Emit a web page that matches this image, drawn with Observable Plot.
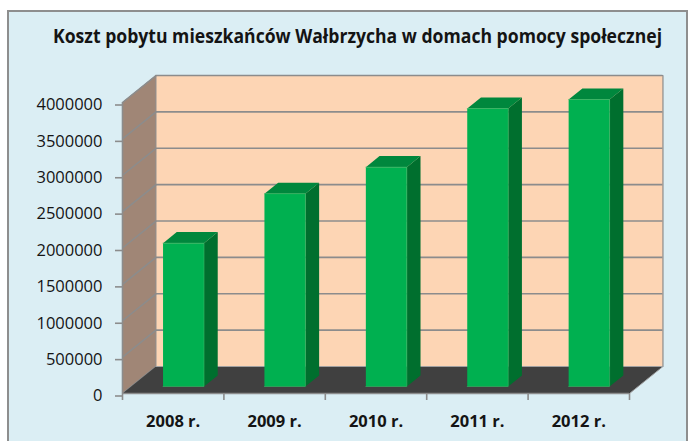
<!DOCTYPE html>
<html><head><meta charset="utf-8">
<script src="https://cdn.jsdelivr.net/npm/d3@7"></script>
<script src="https://cdn.jsdelivr.net/npm/@observablehq/plot@0.6"></script>
<style>
html,body{margin:0;padding:0;background:#fff;width:689px;height:441px;overflow:hidden;}
#frame{position:absolute;left:7px;top:10px;width:681px;height:440px;background:#DBEEF4;border:2px solid #8E8E8E;box-sizing:border-box;}
#chart{position:absolute;left:0;top:0;}
#title{position:absolute;left:53px;top:26px;font-family:"Open Sans";font-weight:bold;font-size:19.5px;line-height:19.5px;white-space:nowrap;transform-origin:0 0;color:#141414;}
</style></head><body>
<div id="frame"></div>
<div id="chart"></div>
<div id="title">Koszt pobytu mieszkańców Wałbrzycha w domach pomocy społecznej</div>
<script>
// ---- data ----
const years = ["2008 r.", "2009 r.", "2010 r.", "2011 r.", "2012 r."];
const costs = [1970000, 2650000, 3015000, 3820000, 3945000];
const yTicks = [0, 500000, 1000000, 1500000, 2000000, 2500000, 3000000, 3500000, 4000000];
const yMax = 4000000;

// ---- 3D (oblique) projection in data units ----
const DXU = 0.33;      // depth shift along x (x units)
const DYU = 371000;    // depth shift along y (y units)
const P = (x, y, z) => ({x: x + z * DXU, y: y + z * DYU});
const barZ0 = 0.26, barZ1 = 0.67, barL = 0.314, barR = 0.718;
const n = years.length;

function poly(id, pts) { return pts.map(p => ({id, ...p})); }

const backWall = poly("back", [P(0,0,1), P(n,0,1), P(n,yMax,1), P(0,yMax,1)]);
const sideWall = poly("side", [P(0,0,0), P(0,0,1), P(0,yMax,1), P(0,yMax,0)]);
const floor = poly("floor", [P(0,0,0), P(n,0,0), P(n,0,1), P(0,0,1)]);

const barSide = [], barTop = [], barFront = [];
costs.forEach((v, i) => {
  const xl = i + barL, xr = i + barR;
  barSide.push(...poly("s"+i, [P(xr,0,barZ0), P(xr,0,barZ1), P(xr,v,barZ1), P(xr,v,barZ0)]));
  barTop.push(...poly("t"+i, [P(xl,v,barZ0), P(xr,v,barZ0), P(xr,v,barZ1), P(xl,v,barZ1)]));
  barFront.push(...poly("f"+i, [P(xl,0,barZ0), P(xr,0,barZ0), P(xr,v,barZ0), P(xl,v,barZ0)]));
});

const grid = "#8C8C8C";

const chart = Plot.plot({
  width: 689, height: 441,
  marginLeft: 122, marginRight: 60, marginTop: 102, marginBottom: 48,
  style: {background: "transparent", fontFamily: "Open Sans", fontSize: "16.5px", color: "#141414", overflow: "visible"},
  x: {domain: [0, n], axis: null, label: null},
  y: {domain: [0, yMax], axis: null, label: null},
  marks: [
    Plot.line(backWall, {x: "x", y: "y", z: "id", fill: "#FDD5B4", stroke: grid, strokeWidth: 1.2}),
    Plot.line(sideWall, {x: "x", y: "y", z: "id", fill: "#A08676", stroke: grid, strokeWidth: 1}),
    Plot.ruleY(yTicks.filter(d => d > 0), {y: d => d + DYU, x1: () => DXU, x2: () => n + DXU, stroke: grid, strokeWidth: 1.6}),
    Plot.link(yTicks, {x1: () => 0, y1: d => d, x2: () => DXU, y2: d => d + DYU, stroke: grid, strokeWidth: 1.6}),
    Plot.line(floor, {x: "x", y: "y", z: "id", fill: "#404040", stroke: "#A0A0A0", strokeWidth: 1}),
    Plot.line(barSide, {x: "x", y: "y", z: "id", fill: "#006F2E"}),
    Plot.line(barTop, {x: "x", y: "y", z: "id", fill: "#00873D"}),
    Plot.line(barFront, {x: "x", y: "y", z: "id", fill: "#00B050", stroke: "#3BB868", strokeWidth: 0.6}),
    Plot.ruleX([0], {y1: 0, y2: yMax, stroke: grid, strokeWidth: 1.6}),
    Plot.ruleY([0], {x1: 0, x2: n, stroke: grid, strokeWidth: 1.6}),
    Plot.axisY({ticks: yTicks, tickFormat: d => String(d), tickSize: 7, tickPadding: 13, stroke: grid, strokeWidth: 1.6, fill: "#141414", dy: 2.5, label: null}),
    Plot.axisX({ticks: d3.range(0, n + 1), tickFormat: () => "", tickSize: 7, stroke: grid, strokeWidth: 1.6, label: null}),
    Plot.axisX({ticks: d3.range(n).map(i => i + 0.5), tickFormat: d => years[Math.floor(d)], tickSize: 0, tickPadding: 22, fontWeight: "bold", fill: "#141414", label: null})
  ]
});
document.getElementById("chart").appendChild(chart);

function fitTitle() {
  const t = document.getElementById("title");
  t.style.transform = "none";
  const w = t.getBoundingClientRect().width;
  t.style.transform = `scaleX(${609 / w})`;
}
fitTitle();
if (document.fonts && document.fonts.ready) document.fonts.ready.then(fitTitle);
</script>
</body></html>
